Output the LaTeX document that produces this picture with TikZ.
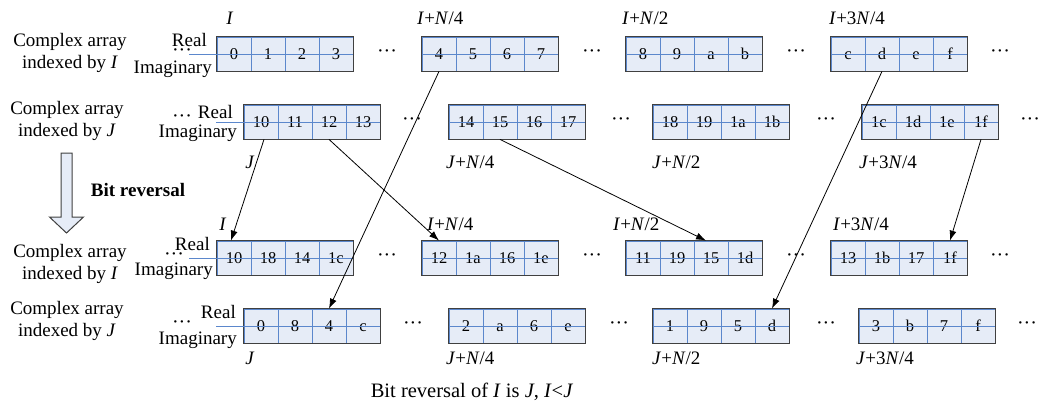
\documentclass[tikz,border=0pt]{standalone}
\usepackage{fontspec}
\setmainfont{Liberation Serif}
\usetikzlibrary{arrows.meta}
\definecolor{cellfill}{HTML}{E6ECF7}
\definecolor{cellblue}{HTML}{5B87CC}
\definecolor{boxgray}{HTML}{404040}
\newcommand\mydots{\textperiodcentered\textperiodcentered\textperiodcentered}
\tikzset{
  cell/.style={draw=cellblue, line width=0.8pt, fill=cellfill, minimum width=34pt,
    minimum height=34pt, inner sep=0pt, text height=11pt, text depth=0pt,
    font=\fontsize{16.5}{18}\selectfont},
  boxline/.style={draw=boxgray, line width=1.3pt},
  midline/.style={draw=cellblue, line width=0.9pt},
  lbl/.style={font=\fontsize{19}{22}\selectfont, inner sep=0pt},
  dotsnode/.style={font=\fontsize{20}{22}\selectfont, inner sep=0pt,
    text height=7pt, text depth=0pt},
  conn/.style={-{Latex[length=10pt,width=7pt]}, line width=0.8pt},
  blockarrow/.style={draw=boxgray, line width=1pt, fill=cellfill},
}
\newcommand\arraybox[4]{%
  \foreach \cv [count=\ci] in {#4} {
    \node[cell] (#1c\ci) at ({#2+17+34*(\ci-1)}, #3) {\cv};
  }
  \draw[boxline] (#1c1.north west) rectangle (#1c4.south east);
  \draw[midline] (#1c1.west) -- (#1c4.east);
}
\begin{document}
\begin{tikzpicture}[x=1pt,y=-1pt]
\useasboundingbox (0,0) rectangle (1039,405);

% ---- arrays ----
\arraybox{r1b1}{217}{54}{0,1,2,3}
\arraybox{r1b2}{422}{54}{4,5,6,7}
\arraybox{r1b3}{626}{54}{8,9,a,b}
\arraybox{r1b4}{831}{54}{c,d,e,f}
\arraybox{r2b1}{244}{122}{10,11,12,13}
\arraybox{r2b2}{449}{122}{14,15,16,17}
\arraybox{r2b3}{653}{122}{18,19,1a,1b}
\arraybox{r2b4}{862}{122}{1c,1d,1e,1f}
\arraybox{r3b1}{217}{258}{10,18,14,1c}
\arraybox{r3b2}{422}{258}{12,1a,16,1e}
\arraybox{r3b3}{626}{258}{11,19,15,1d}
\arraybox{r3b4}{831}{258}{13,1b,17,1f}
\arraybox{r4b1}{244}{326}{0,8,4,c}
\arraybox{r4b2}{449}{326}{2,a,6,e}
\arraybox{r4b3}{653}{326}{1,9,5,d}
\arraybox{r4b4}{859}{326}{3,b,7,f}

% left extensions of the mid lines
\coordinate (e1) at (189,54);
\coordinate (e2) at (216,122);
\coordinate (e3) at (189,258);
\coordinate (e4) at (216,326);
\draw[midline] (e1) -- (r1b1c1.west);
\draw[midline] (e2) -- (r2b1c1.west);
\draw[midline] (e3) -- (r3b1c1.west);
\draw[midline] (e4) -- (r4b1c1.west);

% ---- row captions ----
\node[lbl, align=center] (L1) at (70,53) {Complex array\\indexed by \textit{I}};
\node[lbl, align=center] (L2) at (67,121) {Complex array\\indexed by \textit{J}};
\node[lbl, align=center] (L3) at (70,264) {Complex array\\indexed by \textit{I}};
\node[lbl, align=center] (L4) at (67,321) {Complex array\\indexed by \textit{J}};

% Real / Imaginary
\node[lbl, anchor=east] (re1) at (207,40) {Real};
\node[lbl, anchor=east] (im1) at (212,69) {Imaginary};
\node[lbl, anchor=east] (re2) at (233,112) {Real};
\node[lbl, anchor=east] (im2) at (237,133) {Imaginary};
\node[lbl, anchor=east] (re3) at (210,244) {Real};
\node[lbl, anchor=east] (im3) at (213,271) {Imaginary};
\node[lbl, anchor=east] (re4) at (236,312) {Real};
\node[lbl, anchor=east] (im4) at (237,340) {Imaginary};

% dots
\node[dotsnode] (d10) at (182,53) {\mydots};
\node[dotsnode] (d11) at (387,54) {\mydots};
\node[dotsnode] (d12) at (592,54) {\mydots};
\node[dotsnode] (d13) at (796,54) {\mydots};
\node[dotsnode] (d14) at (1000,54) {\mydots};
\node[dotsnode] (d20) at (182,119) {\mydots};
\node[dotsnode] (d21) at (412,122) {\mydots};
\node[dotsnode] (d22) at (621,122) {\mydots};
\node[dotsnode] (d23) at (826,122) {\mydots};
\node[dotsnode] (d24) at (1030,122) {\mydots};
\node[dotsnode] (d30) at (174,257) {\mydots};
\node[dotsnode] (d31) at (387,258) {\mydots};
\node[dotsnode] (d32) at (592,258) {\mydots};
\node[dotsnode] (d33) at (796,258) {\mydots};
\node[dotsnode] (d34) at (1000,258) {\mydots};
\node[dotsnode] (d40) at (182,325) {\mydots};
\node[dotsnode] (d41) at (413,326) {\mydots};
\node[dotsnode] (d42) at (619,326) {\mydots};
\node[dotsnode] (d43) at (826,326) {\mydots};
\node[dotsnode] (d44) at (1027,326) {\mydots};

% index labels
\node[lbl] (t10) at (230,18) {\textit{I}};
\node[lbl, anchor=west] (t11) at (417,18) {\textit{I}+\textit{N}/4};
\node[lbl, anchor=west] (t12) at (622,18) {\textit{I}+\textit{N}/2};
\node[lbl, anchor=west] (t13) at (829,18) {\textit{I}+3\textit{N}/4};
\node[lbl] (t20) at (250,162) {\textit{J}};
\node[lbl, anchor=west] (t21) at (446,162) {\textit{J}+\textit{N}/4};
\node[lbl, anchor=west] (t22) at (652,162) {\textit{J}+\textit{N}/2};
\node[lbl, anchor=west] (t23) at (859,162) {\textit{J}+3\textit{N}/4};
\node[lbl] (t30) at (223,224) {\textit{I}};
\node[lbl, anchor=west] (t31) at (427,224) {\textit{I}+\textit{N}/4};
\node[lbl, anchor=west] (t32) at (613,224) {\textit{I}+\textit{N}/2};
\node[lbl, anchor=west] (t33) at (833,224) {\textit{I}+3\textit{N}/4};
\node[lbl] (t40) at (250,358) {\textit{J}};
\node[lbl, anchor=west] (t41) at (446,358) {\textit{J}+\textit{N}/4};
\node[lbl, anchor=west] (t42) at (652,358) {\textit{J}+\textit{N}/2};
\node[lbl, anchor=west] (t43) at (856,358) {\textit{J}+3\textit{N}/4};

% bit reversal block arrow
\draw[blockarrow] (61,153) -- (72,153) -- (72,217) -- (83.5,217) -- (66.5,233)
  -- (49.5,217) -- (61,217) -- cycle;
\node[lbl, font=\fontsize{19}{22}\selectfont\bfseries] (br) at (138,190) {Bit reversal};

% caption
\node[lbl, font=\fontsize{20.5}{24}\selectfont] (cap) at (472,392)
  {Bit reversal of \textit{I} is \textit{J}, \textit{I}<\textit{J}};

% connectors
\draw[conn] ([xshift=3pt]r2b1c1.south) -- ([xshift=-3pt]r3b1c1.north);
\draw[conn] (r1b2c1.south) -- (r4b1c3.north);
\draw[conn] (r2b1c3.south) -- (r3b2c1.north);
\draw[conn] (r2b2c2.south) -- ([xshift=-5pt]r3b3c3.north);
\draw[conn] (r1b4c2.south) -- (r4b3c4.north);
\draw[conn] (r2b4c4.south) -- (r3b4c4.north);
\end{tikzpicture}
\end{document}
